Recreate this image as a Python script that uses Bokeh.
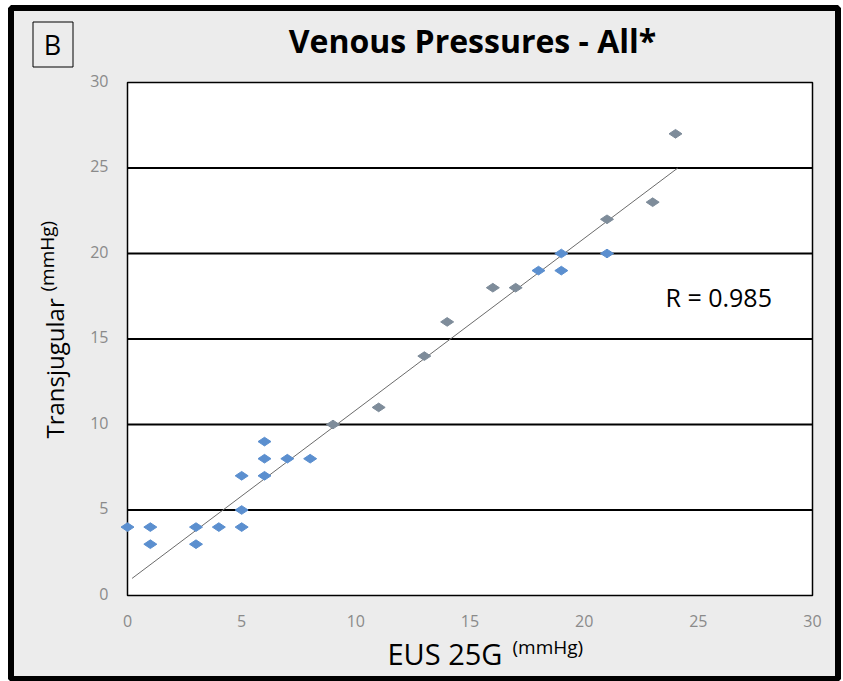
import math
from bokeh.plotting import figure
from bokeh.models import Range1d, Label, BoxAnnotation
from bokeh.core.properties import value
from bokeh.embed import file_html
from bokeh.resources import INLINE

# ---- data ----
blue_x = [0, 1, 1, 3, 3, 4, 5, 5, 5, 6, 6, 6, 7, 8, 19, 19, 21, 18]
blue_y = [4, 4, 3, 4, 3, 4, 4, 5, 7, 7, 8, 9, 8, 8, 20, 19, 20, 19]
grey_x = [9, 11, 13, 14, 16, 17, 21, 23, 24]
grey_y = [10, 11, 14, 16, 18, 18, 22, 23, 27]
trend_x = [0.2, 24.1]
trend_y = [1.0, 25.0]
ticks = [0, 5, 10, 15, 20, 25, 30]
tick_labels = ["0", "5", "10", "15", "20", "25", "30"]
grid_ticks = [5, 10, 15, 20, 25]
axis_min, axis_max = 0, 30
title_text = "Venous Pressures - All*"
panel_text = "B"
x_label = "EUS 25G"
y_label = "Transjugular"
unit_text = "(mmHg)"
r_text = "R = 0.985"

# ---- layout (pixels) ----
FONT = "Open Sans"
W, H = 843, 681
PL, PR, PT, PB = 127, 812, 82, 595   # plot-area box on the canvas
sx_per = (PR - PL) / (axis_max - axis_min)
sy_per = (PB - PT) / (axis_max - axis_min)
x_range = Range1d(axis_min - PL / sx_per, axis_max + (W - PR) / sx_per)
y_range = Range1d(axis_min - (H - PB) / sy_per, axis_max + PT / sy_per)

p = figure(width=W, height=H, output_backend="svg", toolbar_location=None,
           x_range=x_range, y_range=y_range,
           x_axis_location=None, y_axis_location=None, min_border=0)
p.background_fill_color = "white"
p.border_fill_color = "white"
p.outline_line_color = None
p.xgrid.visible = False
p.ygrid.visible = False

def cbox(l, t, r, b, **kw):
    return BoxAnnotation(left=l, right=r, top=t, bottom=b,
                         left_units="canvas", right_units="canvas",
                         top_units="canvas", bottom_units="canvas", **kw)

# grey card
p.add_layout(cbox(10.5, 7.5, 837.5, 678.5, fill_color="#ececec", fill_alpha=1,
                  line_color=None, level="underlay"))
# white plot area (data coordinates)
p.add_layout(BoxAnnotation(left=axis_min, right=axis_max, bottom=axis_min, top=axis_max,
                           fill_color="white", fill_alpha=1, line_color="black",
                           line_alpha=1, line_width=1.5, level="underlay"))

# horizontal grid lines
p.segment(x0=[axis_min] * len(grid_ticks), y0=grid_ticks,
          x1=[axis_max] * len(grid_ticks), y1=grid_ticks,
          line_color="black", line_width=1.8)

# tick labels
p.text(x=ticks, y=[axis_min] * len(ticks), text=tick_labels,
       text_font=value(FONT), text_font_size="16px", text_color="#8a8a8a",
       text_align="center", text_baseline="middle", y_offset=25)
p.text(x=[axis_min] * len(ticks), y=ticks, text=tick_labels,
       text_font=value(FONT), text_font_size="16px", text_color="#8a8a8a",
       text_align="right", text_baseline="middle", x_offset=-19, y_offset=-2)

# trend line
p.line(trend_x, trend_y, line_color="#6b6b6b", line_width=1)

# points
p.scatter(blue_x, blue_y, marker="diamond", size=13, angle=math.pi / 2,
          fill_color="#5b8fcf", line_color="#5b8fcf")
p.scatter(grey_x, grey_y, marker="diamond", size=13, angle=math.pi / 2,
          fill_color="#7e8c9a", line_color="#7e8c9a")

# outer black border and panel letter box
p.add_layout(cbox(10.5, 7.5, 837.5, 678.5, fill_color=None, fill_alpha=0,
                  line_color="black", line_alpha=1, line_width=6, level="overlay"))
p.add_layout(cbox(32.5, 21.5, 72.5, 66.5, fill_color=None, fill_alpha=0,
                  line_color="black", line_alpha=1, line_width=1, level="overlay"))

def lab(x, y, text, size, **kw):
    return Label(x=x, y=y, x_units="canvas", y_units="canvas", text=text,
                 text_font=FONT, text_font_size=size, text_color="black",
                 text_baseline="alphabetic", **kw)

p.add_layout(lab(52, 44, panel_text, "27px", text_align="center"))
p.add_layout(lab(472, 40, title_text, "32px", text_font_style="bold", text_align="center"))
p.add_layout(lab(387, 653, x_label, "29px", text_align="left"))
p.add_layout(lab(512, 646, unit_text, "19px", text_align="left"))
p.add_layout(lab(54, 438, y_label, "24px", angle=math.pi / 2, text_align="left"))
p.add_layout(lab(46, 291, unit_text, "19px", angle=math.pi / 2, text_align="left"))
p.add_layout(lab(665, 296, r_text, "25px", text_align="left"))

open("out.html", "w").write(file_html(p, INLINE))
